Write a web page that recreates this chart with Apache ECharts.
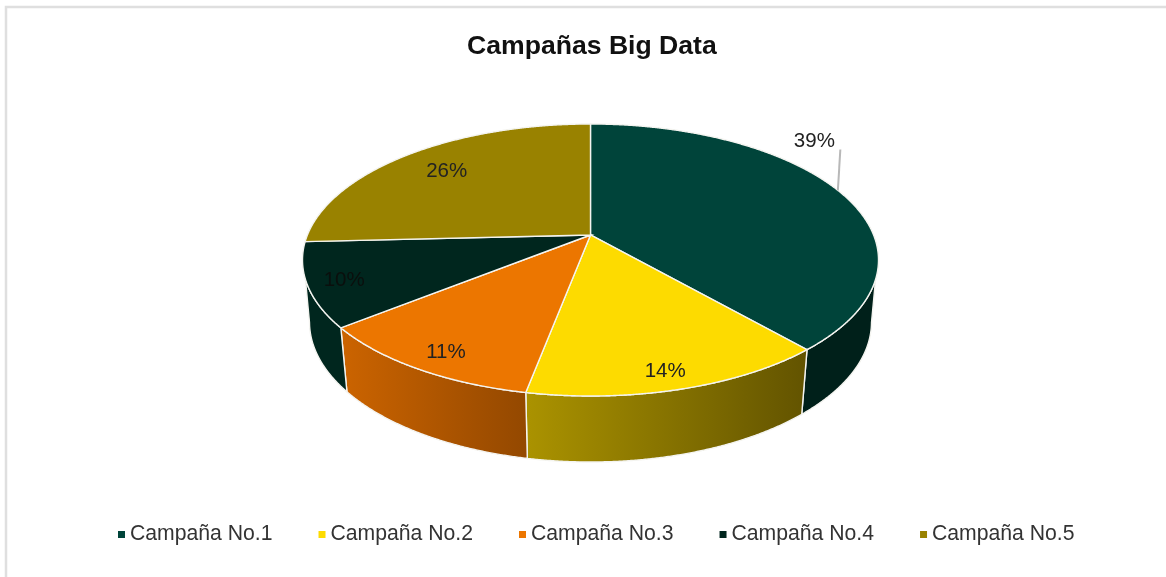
<!DOCTYPE html>
<html>
<head>
<meta charset="utf-8">
<style>html,body{margin:0;padding:0;background:#fff}#c{width:1166px;height:577px}</style>
<script src="https://cdn.jsdelivr.net/npm/echarts@6/dist/echarts.min.js"></script>
</head>
<body>
<div id="c"></div>
<script>
const categories = ['Campaña No.1', 'Campaña No.2', 'Campaña No.3', 'Campaña No.4', 'Campaña No.5'];
const values = [38.55, 14.45, 11.25, 9.95, 25.8];
const faceColors = ['#00443a', '#fddb00', '#ec7600', '#00261e', '#998200'];
const wallStart = ['#00201a', '#ab9300', '#cc6400', '#00261e', '#998200'];
const wallEnd = ['#00201a', '#625300', '#934800', '#00261e', '#998200'];
const labelReach = [1, 0.86, 0.84, 0.87, 0.79];
const labelShift = [[-25, -50], [-3, 4], [1, 5], [0, 2], [0, 0]];

const FONT = '"Liberation Sans", Arial, sans-serif';
const top3d = {cx: 590.5, cy: 260, rx: 288, ry: 136};
const low3d = {cx: 590.5, cy: 322, rx: 281, ry: 140};
const tilt = 0.184;
const total = values.reduce((a, b) => a + b, 0);

// true pie angle -> point on the unit disc seen in perspective
function project(frac) {
  const a = frac * 2 * Math.PI, x = Math.sin(a), y = Math.cos(a);
  const w = 1 + tilt * y;
  return {x: x * Math.sqrt(1 - tilt * tilt) / w, y: (y + tilt) / w};
}
function place(e, p) { return [e.cx + p.x * e.rx, e.cy - p.y * e.ry]; }
const apex = place(top3d, {x: 0, y: tilt});

function renderSlice(params, api) {
  const v = api.value(0), start = api.value(1), i = params.seriesIndex;
  const f0 = start / total, f1 = (start + v) / total;
  const n = Math.max(2, Math.ceil((f1 - f0) * 1440));
  const rim = [];
  for (let k = 0; k <= n; k++) rim.push(project(f0 + (f1 - f0) * k / n));
  const children = [];
  const upper = rim.filter(p => p.y < -0.14).map(p => place(top3d, p));
  const lower = rim.filter(p => p.y < 0).map(p => place(low3d, p));
  if (upper.length && lower.length) {
    children.push({
      type: 'polygon',
      shape: {points: upper.concat(lower.reverse())},
      style: {
        fill: new echarts.graphic.LinearGradient(0, 0, 1, 0, [
          {offset: 0, color: wallStart[i]}, {offset: 1, color: wallEnd[i]}
        ]),
        stroke: '#f4f4f0', lineWidth: 1.4
      }
    });
  }
  children.push({
    type: 'polygon',
    shape: {points: [apex].concat(rim.map(p => place(top3d, p)))},
    style: {fill: faceColors[i], stroke: '#f4f4f0', lineWidth: 1.4}
  });
  const mid = place(top3d, project((f0 + f1) / 2));
  const k = labelReach[i];
  const lx = apex[0] + (mid[0] - apex[0]) * k + labelShift[i][0];
  const ly = apex[1] + (mid[1] - apex[1]) * k + labelShift[i][1];
  if (i === 0) {
    children.push({
      type: 'line',
      shape: {x1: mid[0] - 1.5, y1: mid[1] - 1, x2: mid[0] + 1, y2: mid[1] - 42},
      style: {stroke: '#b8b8b8', lineWidth: 2}, z2: 5
    });
  }
  children.push({
    type: 'text', z2: 10,
    style: {x: lx, y: ly, text: Math.round(v / total * 100) + '%', fill: i === 3 ? '#0a0f0d' : '#222',
      font: '20.5px ' + FONT, align: 'center', verticalAlign: 'middle'}
  });
  return {type: 'group', children};
}

let running = 0;
const series = categories.map((name, i) => {
  const row = [values[i], running];
  running += values[i];
  return {
    type: 'custom', name, coordinateSystem: 'none', silent: true, animation: false,
    itemStyle: {color: faceColors[i]},
    renderItem: renderSlice,
    data: [row]
  };
});

const chart = echarts.init(document.getElementById('c'), null, {renderer: 'canvas'});
chart.setOption({
  backgroundColor: '#fff',
  animation: false,
  title: {
    text: 'Campañas Big Data', left: 462, top: 28,
    textStyle: {fontFamily: FONT, fontSize: 26.6, fontWeight: 'bold', color: '#111'}
  },
  legend: {
    left: 113, top: 519, itemGap: 46, itemWidth: 7, itemHeight: 7, icon: 'rect',
    textStyle: {fontFamily: FONT, fontSize: 21.2, color: '#333'},
    data: categories
  },
  graphic: [{
    type: 'rect', silent: true, z: -1,
    shape: {x: 6, y: 7, width: 1300, height: 700},
    style: {fill: 'none', stroke: '#dfdfdf', lineWidth: 2.5}
  }],
  series
});
</script>
</body>
</html>
